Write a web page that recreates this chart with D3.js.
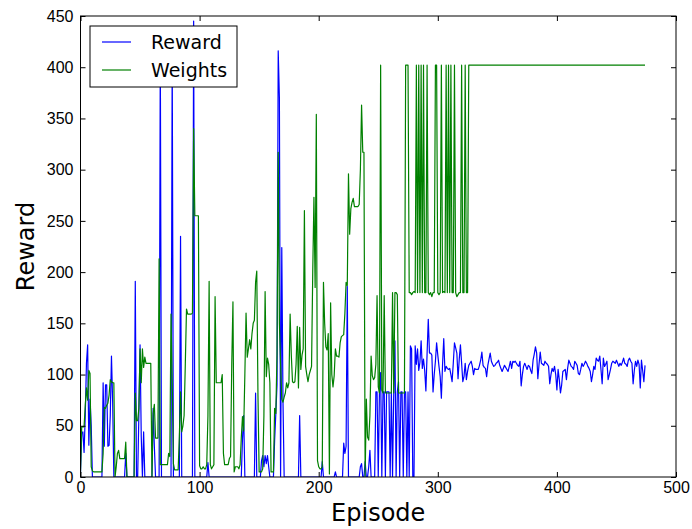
<!DOCTYPE html>
<html>
<head>
<meta charset="utf-8">
<script src="https://d3js.org/d3.v7.min.js"></script>
<style>
  body { margin: 0; background: #fff; }
  svg { display: block; font-family: "DejaVu Sans", sans-serif; }
</style>
</head>
<body>
<svg id="chart" width="692" height="529"></svg>
<script>
// reward per episode (index = episode)
const reward = [
  4, 43, 44, 24, 60, 111, 129, 31, 76, 50, 0,
  0, 0, 0, 0, 0, 0, 0, 0,
  92, 30, 90, 90, 30, 31, 60, 118, 73, 0,
  0, 0, 0, 0, 0, 0, 0, 0, 0, 23,
  0, 0, 0, 0, 0, 0, 0, 191, 0, 0,
  60, 129, 40, 0, 44, 0, 0, 0, 0, 0, 0, 0,
  67, 30, 0, 0, 0, 0, 420, 0, 0, 0,
  0, 0, 0, 0, 0, 0, 415, 0, 0, 0,
  0, 0, 0, 235, 0, 0, 0, 0, 0, 0,
  0, 0, 0, 0, 445, 0, 0, 0, 0, 0,
  0, 0, 0, 0, 0, 0, 14, 0, 0, 0,
  0, 0, 0, 0, 0, 0, 0, 0, 0, 0,
  0, 0, 0, 0, 0, 0, 0, 0, 0, 0,
  0, 0, 0, 0, 0, 37, 60, 0, 0, 0,
  0, 0, 0, 0, 0, 0, 82, 0, 0, 0,
  0, 16, 21, 10, 21, 13, 21, 10, 0, 0,
  0, 0, 36, 62, 90, 416, 370, 0, 224, 75,
  0, 0, 0, 0, 0, 0, 0, 0, 0, 0,
  0, 0, 0, 60, 0, 0, 0, 0, 0, 0,
  0, 0, 0, 0, 0, 0, 0, 0, 0, 0,
  0, 0, 15, 0, 0, 0, 0, 0, 0, 0,
  0, 0, 0, 5, 0, 0, 0, 0, 0, 0,
  33, 23, 30, 186, 0, 0, 0, 0, 0, 0,
  0, 0, 0, 0, 10, 13, 0, 0, 15, 0,
  0, 10, 26, 0, 0, 0, 0,
  83, 83, 0, 83, 102, 0, 83, 83, 0, 83, 83, 83, 0, 83, 0, 83, 133, 0, 83, 93,
  0, 83, 83, 0, 83, 83, 0, 83, 0, 128, 125, 0, 0, 128, 110, 125, 104, 112, 133, 106,
  115, 104, 84, 120, 154, 121,
  121, 119, 83, 100, 113, 131, 119, 108, 98, 77, 110, 135, 103, 108, 106, 105, 106, 100, 93, 111,
  131, 126, 121, 96, 115, 129, 111, 93, 98, 111, 95, 103, 109, 111, 113, 108, 100, 106, 105, 105,
  105, 109, 114, 122, 109, 107, 106, 98, 109, 115, 121, 113, 110, 108, 109, 111, 112, 114, 109, 106,
  103, 106, 109, 107, 105, 103, 108, 113, 106, 113, 112, 113, 111, 109, 108, 113, 89, 100, 108, 111,
  108, 105, 109, 108, 104, 101, 114, 120, 127, 121, 96, 110, 122, 111, 110, 109, 113, 111, 110, 108,
  91, 100, 106, 103, 108, 100, 85, 105, 95, 82, 90, 103, 104, 105, 95, 106, 114, 111, 108, 107,
  105, 113, 111, 109, 101, 100, 105, 111, 108, 110, 113, 111, 108, 106, 103, 93, 100, 108, 105, 116,
  114, 113, 118, 105, 91, 116, 108, 110, 113, 95, 100, 105, 111, 113, 112, 111, 114, 111, 108, 111,
  109, 112, 116, 111, 110, 108, 114, 116, 113, 111, 91, 104, 113, 108, 114, 110, 87, 114, 104, 93,
  109
];

// weights per episode (index = episode)
const weights = [
  4, 49, 49, 49, 70, 87, 75, 104, 101, 10, 6,
  5, 5, 5, 5, 5, 5, 5, 5,
  23, 68, 67, 70, 72, 80, 95, 93, 92, 92,
  0, 10, 23, 26, 18, 18, 18, 18, 18, 34,
  0, 0, 0, 0, 0, 0, 0,
  82, 55, 55, 67, 125, 92, 125, 107, 117, 111, 111, 111, 111, 111,
  0, 62, 71, 38, 38, 38, 213,
  12, 12, 12, 12, 12, 12, 12, 23, 20,
  159, 95, 13, 7, 7, 7, 7, 40, 83, 44, 50, 60,
  110, 164, 159, 159, 159, 159, 160, 340, 255, 255, 255, 255,
  11, 8, 8, 10, 8, 8, 12, 60, 191, 12, 8, 10, 12,
  176, 92, 92, 92, 92, 92, 100, 23, 12, 12, 12, 12, 18, 20,
  110, 171, 5, 10, 10, 10, 8, 12, 38, 59, 45, 100,
  160, 117, 125, 134, 125, 140, 150, 153, 190, 201,
  80, 5, 5, 5, 8, 60, 181, 98, 116, 110, 92, 5, 5, 5,
  67, 62, 120, 317, 150, 110, 76, 73, 78, 82, 92, 87, 92,
  159, 119, 93, 92, 93, 110, 147, 87, 146, 105, 119, 125,
  260, 108, 100, 93, 100, 104, 108, 200, 273, 185, 354, 16, 10,
  8, 8, 10, 190, 150, 127, 124, 140, 3, 170, 100, 88,
  99, 125, 118, 118, 117, 131, 137, 138, 139, 160, 190, 187,
  296, 237, 262, 268, 272, 264, 264, 264, 264, 266, 300, 363, 317, 317,
  0, 76, 39, 36, 60, 118, 99, 95, 97, 110, 177, 88, 82,
  402, 85, 82, 177, 82, 82, 82, 82, 82, 82, 180, 82, 180, 180, 178, 82, 82, 82, 82, 82,
  82, 402, 402, 402,
  180, 180, 178, 180, 181, 180, 402, 180, 402, 180,
  402, 180, 402, 180, 180, 402, 180, 178, 180, 176,
  180, 180, 402, 402, 180, 178, 180, 402, 180, 181,
  180, 402, 180, 402, 180, 402, 180, 180, 402, 180,
  176, 178, 180, 180, 402, 180, 180, 402, 180, 180,
  402,
  402, 402, 402, 402, 402, 402, 402, 402, 402, 402, 402, 402, 402, 402, 402, 402, 402, 402, 402, 402,
  402, 402, 402, 402, 402, 402, 402, 402, 402, 402, 402, 402, 402, 402, 402, 402, 402, 402, 402, 402,
  402, 402, 402, 402, 402, 402, 402, 402, 402, 402, 402, 402, 402, 402, 402, 402, 402, 402, 402, 402,
  402, 402, 402, 402, 402, 402, 402, 402, 402, 402, 402, 402, 402, 402, 402, 402, 402, 402, 402, 402,
  402, 402, 402, 402, 402, 402, 402, 402, 402, 402, 402, 402, 402, 402, 402, 402, 402, 402, 402, 402,
  402, 402, 402, 402, 402, 402, 402, 402, 402, 402, 402, 402, 402, 402, 402, 402, 402, 402, 402, 402,
  402, 402, 402, 402, 402, 402, 402, 402, 402, 402, 402, 402, 402, 402, 402, 402, 402, 402, 402, 402,
  402, 402, 402, 402, 402, 402, 402, 402
];

const xTicks = [0, 100, 200, 300, 400, 500];
const yTicks = [0, 50, 100, 150, 200, 250, 300, 350, 400, 450];
const seriesNames = ['Reward', 'Weights'];
const seriesColors = ['#0000ff', '#008000'];

const svg = d3.select('#chart');
const margin = { top: 16, right: 16, bottom: 52, left: 80.5 };
const W = 692, H = 529;

const x = d3.scaleLinear().domain([0, 500]).range([margin.left, W - margin.right]);
const y = d3.scaleLinear().domain([0, 450]).range([H - margin.bottom, margin.top]);

svg.append('rect').attr('width', W).attr('height', H).attr('fill', '#fff');

svg.append('clipPath').attr('id', 'plot-clip')
  .append('rect')
  .attr('x', x(0)).attr('y', y(450))
  .attr('width', x(500) - x(0)).attr('height', y(0) - y(450));

const line = d3.line()
  .x((d, i) => x(i))
  .y(d => y(d));

const plot = svg.append('g').attr('clip-path', 'url(#plot-clip)');
[reward, weights].forEach((s, k) => {
  plot.append('path')
    .datum(s)
    .attr('fill', 'none')
    .attr('stroke', seriesColors[k])
    .attr('stroke-width', 1.2)
    .attr('stroke-linejoin', 'round')
    .attr('d', line);
});

// axes, ticks pointing inward on all four sides
const tickLen = 5;
const styleAxis = g => {
  g.select('.domain').remove();
  g.selectAll('.tick line').attr('stroke', '#000');
  g.selectAll('.tick text').attr('fill', '#000').style('font-size', '16px');
};

svg.append('g')
  .attr('transform', `translate(0,${y(0)})`)
  .call(d3.axisBottom(x).tickValues(xTicks).tickSize(-tickLen).tickPadding(5))
  .call(styleAxis);

svg.append('g')
  .attr('transform', `translate(0,${y(450)})`)
  .call(d3.axisTop(x).tickValues(xTicks).tickSize(-tickLen).tickFormat(''))
  .call(styleAxis);

svg.append('g')
  .attr('transform', `translate(${x(0)},0)`)
  .call(d3.axisLeft(y).tickValues(yTicks).tickSize(-tickLen).tickPadding(7))
  .call(styleAxis);

svg.append('g')
  .attr('transform', `translate(${x(500)},0)`)
  .call(d3.axisRight(y).tickValues(yTicks).tickSize(-tickLen).tickFormat(''))
  .call(styleAxis);

svg.append('rect')
  .attr('x', x(0)).attr('y', y(450))
  .attr('width', x(500) - x(0)).attr('height', y(0) - y(450))
  .attr('fill', 'none').attr('stroke', '#000').attr('stroke-width', 1);

svg.append('text')
  .attr('x', (x(0) + x(500)) / 2).attr('y', 521)
  .attr('text-anchor', 'middle')
  .style('font-size', '24px')
  .text('Episode');

svg.append('text')
  .attr('transform', `translate(34,${(y(0) + y(450)) / 2}) rotate(-90)`)
  .attr('text-anchor', 'middle')
  .style('font-size', '24px')
  .text('Reward');

// legend
const legend = svg.append('g');
legend.append('rect')
  .attr('x', 90).attr('y', 26).attr('width', 147).attr('height', 61)
  .attr('fill', '#fff').attr('stroke', '#000').attr('stroke-width', 1);

seriesNames.forEach((name, k) => {
  const ly = 42 + k * 28;
  legend.append('line')
    .attr('x1', 102).attr('x2', 131).attr('y1', ly).attr('y2', ly)
    .attr('stroke', seriesColors[k]).attr('stroke-width', 1.2);
  legend.append('text')
    .attr('x', 151).attr('y', ly).attr('dy', '0.36em')
    .style('font-size', '19px')
    .text(name);
});
</script>
</body>
</html>
